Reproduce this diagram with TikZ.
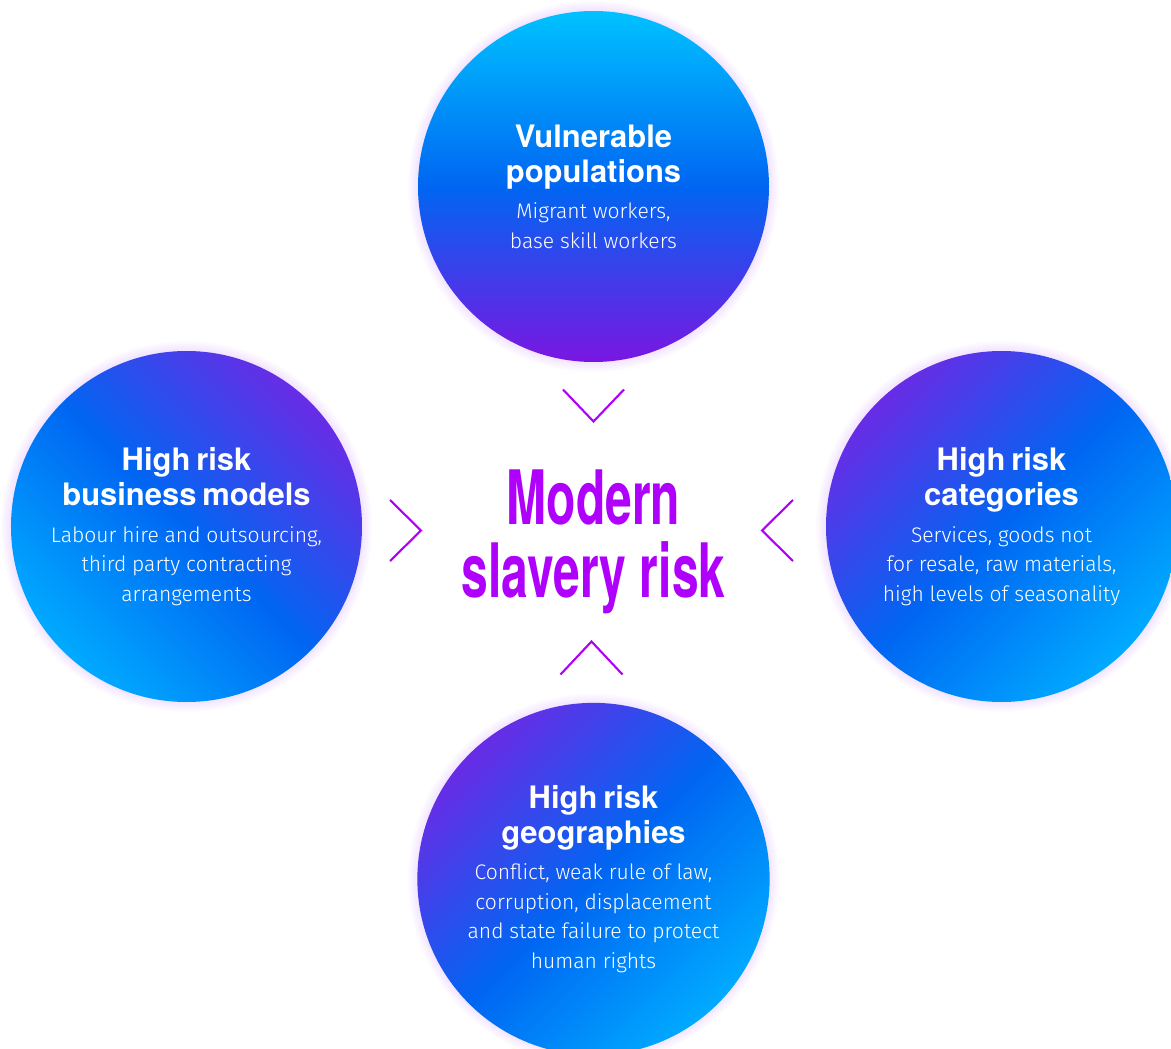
\documentclass[tikz,border=0pt]{standalone}
\usepackage{fontspec}
\usepackage{tikz}
\usetikzlibrary{positioning,calc,backgrounds}
\setmainfont{TeX Gyre Heros}
\newfontfamily\bodyfam{Fira Sans Light}

\definecolor{skycyan}{RGB}{0,194,255}
\definecolor{royalblue}{RGB}{0,102,242}
\definecolor{deepviolet}{RGB}{122,22,226}
\definecolor{cornercyan}{RGB}{0,170,255}
\definecolor{cornerviolet}{RGB}{104,44,230}
\definecolor{riskpurple}{RGB}{174,0,250}
\definecolor{halo}{RGB}{200,140,255}

\newcommand{\bubblehead}[1]{{\bfseries\fontsize{17.6}{19.9}\selectfont #1\par}\vspace{3.9pt}}
\newcommand{\bubblebody}[1]{{\bodyfam\fontsize{12}{16.8}\selectfont #1\par}}

\begin{document}
\begin{tikzpicture}[
    bubble/.style={circle, inner sep=0pt, minimum size=7.02cm, text width=6cm, align=center, text=white},
    vertical/.style={top color=skycyan, bottom color=deepviolet, middle color=royalblue},
    diagonal/.style={top color=cornerviolet, bottom color=cornercyan, middle color=royalblue, shading angle=#1},
    chevron/.style={draw=riskpurple, line width=1.2pt},
    glow/.style={fill=halo, fill opacity=0.03}
]
    \useasboundingbox (-11.87,-10.43) rectangle (11.55,10.53);

    \node[font=\bfseries\fontsize{42.7}{41.5}\selectfont, text=riskpurple, align=center, xscale=0.64] (risk) at (0,-0.3) {Modern\\slavery risk};

    \node[bubble, vertical] (pop) at (0,6.80)
        {\bubblehead{Vulnerable\\populations}\bubblebody{Migrant workers,\\base skill workers}};
    \node[bubble, diagonal=-45] (models) at (-8.14,0)
        {\bubblehead{High risk\\business models}\bubblebody{Labour hire and outsourcing,\\third party contracting\\arrangements}};
    \node[bubble, diagonal=45] (cats) at (8.16,0)
        {\bubblehead{High risk\\categories}\bubblebody{Services, goods not\\for resale, raw materials,\\high levels of seasonality}};
    \node[bubble, diagonal=45] (geo) at (0,-7.05)
        {\bubblehead{High risk\\geographies}\bubblebody{Conflict, weak rule of law,\\corruption, displacement\\and state failure to protect\\human rights}};

    % soft halo round the bubbles
    \begin{scope}[on background layer]
        \foreach \n in {pop,models,cats,geo}
            \foreach \g in {1,...,8}
                \fill[glow] (\n.center) circle ({3.51+0.025*\g});
    \end{scope}

    % chevrons pointing in to the centre
    \coordinate (tipN) at (0,2.10);
    \coordinate (tipS) at (-0.04,-2.30);
    \coordinate (tipW) at (-3.45,-0.08);
    \coordinate (tipE) at (3.37,-0.08);
    \draw[chevron] ($(tipN)+(-0.61,0.64)$) -- (tipN) -- ($(tipN)+(0.61,0.64)$);
    \draw[chevron] ($(tipS)+(-0.62,-0.66)$) -- (tipS) -- ($(tipS)+(0.62,-0.66)$);
    \draw[chevron] ($(tipW)+(-0.62,0.61)$) -- (tipW) -- ($(tipW)+(-0.62,-0.61)$);
    \draw[chevron] ($(tipE)+(0.62,0.61)$) -- (tipE) -- ($(tipE)+(0.62,-0.61)$);
\end{tikzpicture}
\end{document}
